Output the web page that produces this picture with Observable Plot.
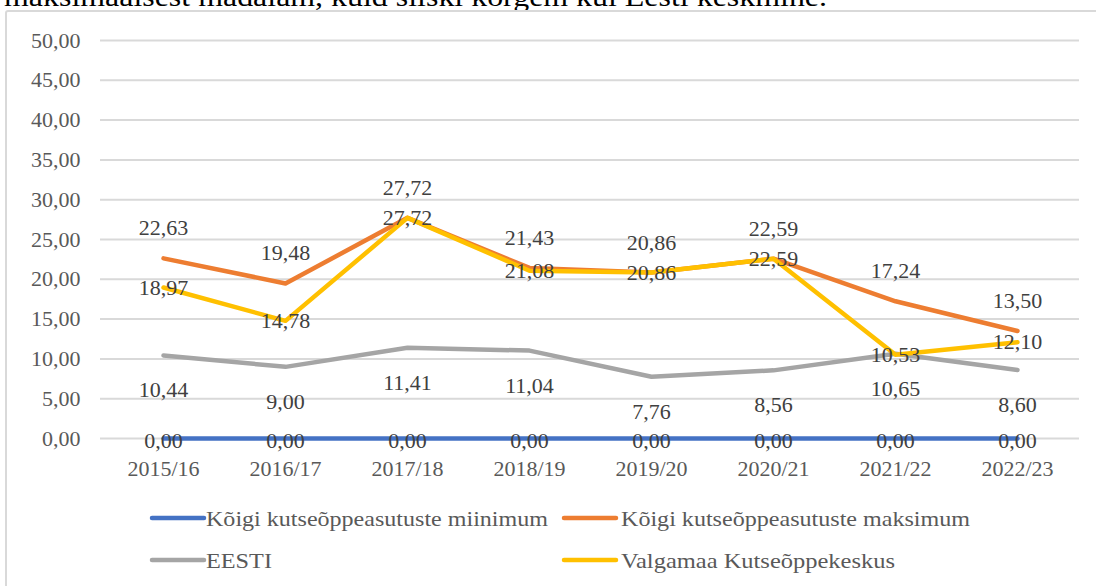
<!DOCTYPE html>
<html><head><meta charset="utf-8">
<script src="https://cdn.jsdelivr.net/npm/d3@7"></script>
<script src="https://cdn.jsdelivr.net/npm/@observablehq/plot@0.6"></script>
<style>
html,body{margin:0;padding:0;background:#fff;overflow:hidden;width:1096px;height:586px;}
#wrap{position:relative;width:1096px;height:586px;}
#frame{position:absolute;left:5px;top:10px;width:1200px;height:700px;border:2px solid #d9d9d9;border-radius:3px;pointer-events:none;}
#chart{position:absolute;left:0;top:0;}
#overlay{position:absolute;left:0;top:0;}
svg text{font-family:"Times New Roman","Liberation Serif",Tinos,serif;}
</style></head><body>
<div id="wrap"><div id="chart"></div><svg id="overlay" width="1096" height="586"></svg><div id="frame"></div></div>
<script>
const introText = "maksimaalsest madalam, kuid siiski kõrgem kui Eesti keskmine.";
const categories = ["2015/16","2016/17","2017/18","2018/19","2019/20","2020/21","2021/22","2022/23"];
const seriesNames = ["Kõigi kutseõppeasutuste miinimum","Kõigi kutseõppeasutuste maksimum","EESTI","Valgamaa Kutseõppekeskus"];
const seriesColors = ["#4472C4","#ED7D31","#A5A5A5","#FFC000"];
const minimumValues = [0,0,0,0,0,0,0,0];
const maximumValues = [22.63,19.48,27.72,21.43,20.86,22.59,17.24,13.50];
const eestiValues = [10.44,9.00,11.41,11.04,7.76,8.56,10.65,8.60];
const valgamaaValues = [18.97,14.78,27.72,21.08,20.86,22.59,10.53,12.10];
const yTicks = [0,5,10,15,20,25,30,35,40,45,50];

const FONT = '"Times New Roman", "Liberation Serif", Tinos, serif';
const allValues = [minimumValues, maximumValues, eestiValues, valgamaaValues];
const rows = [];
allValues.forEach((vals, si) => vals.forEach((v, i) => rows.push({series: seriesNames[si], cat: categories[i], value: v})));
const fmt = v => v.toFixed(2).replace(".", ",");
const labelDy = [2, -30, 35, 0];

const lineMarks = seriesNames.map((name, si) =>
  Plot.line(rows.filter(r => r.series === name), {
    x: "cat", y: "value", stroke: seriesColors[si], strokeWidth: 4.5,
    strokeLinecap: "round", strokeLinejoin: "round"
  }));
const labelMarks = seriesNames.map((name, si) =>
  Plot.text(rows.filter(r => r.series === name), {
    x: "cat", y: "value", text: d => fmt(d.value), dy: labelDy[si],
    fill: "#404040", fontSize: 22, fontFamily: FONT
  }));

const chart = Plot.plot({
  width: 1096, height: 490,
  marginLeft: 100, marginRight: 17, marginTop: 40, marginBottom: 52,
  style: {fontFamily: FONT, fontSize: "22px", color: "#595959", background: "transparent"},
  x: {type: "point", domain: categories, padding: 0.5, label: null},
  y: {domain: [0, 50], label: null},
  marks: [
    Plot.gridY(yTicks, {stroke: "#d9d9d9", strokeWidth: 2, strokeOpacity: 1}),
    Plot.axisY(yTicks, {tickSize: 0, tickPadding: 20, tickFormat: fmt, fontSize: 22, fontFamily: FONT, label: null}),
    Plot.axisX({tickSize: 0, tickPadding: 22, fontSize: 22, fontFamily: FONT, label: null}),
    ...lineMarks,
    ...labelMarks
  ]
});
document.getElementById("chart").appendChild(chart);

const ov = d3.select("#overlay");
ov.append("text").attr("x", 4).attr("y", 6)
  .attr("font-size", 28).attr("fill", "#000")
  .attr("textLength", 823).attr("lengthAdjust", "spacingAndGlyphs").text(introText);

const legendLayout = [
  {x: 152, y: 518, tx: 206, tb: 526, tw: 342},
  {x: 564, y: 518, tx: 621, tb: 526, tw: 349},
  {x: 152, y: 560, tx: 206, tb: 568, tw: 66},
  {x: 564, y: 560, tx: 621, tb: 568, tw: 274}
];
seriesNames.forEach((name, si) => {
  const L = legendLayout[si];
  ov.append("line").attr("x1", L.x).attr("x2", L.x + 52).attr("y1", L.y).attr("y2", L.y)
    .attr("stroke", seriesColors[si]).attr("stroke-width", 4.5).attr("stroke-linecap", "round");
  ov.append("text").attr("x", L.tx).attr("y", L.tb)
    .attr("font-size", 22).attr("fill", "#595959")
    .attr("textLength", L.tw).attr("lengthAdjust", "spacingAndGlyphs").text(name);
});
</script>
</body></html>
